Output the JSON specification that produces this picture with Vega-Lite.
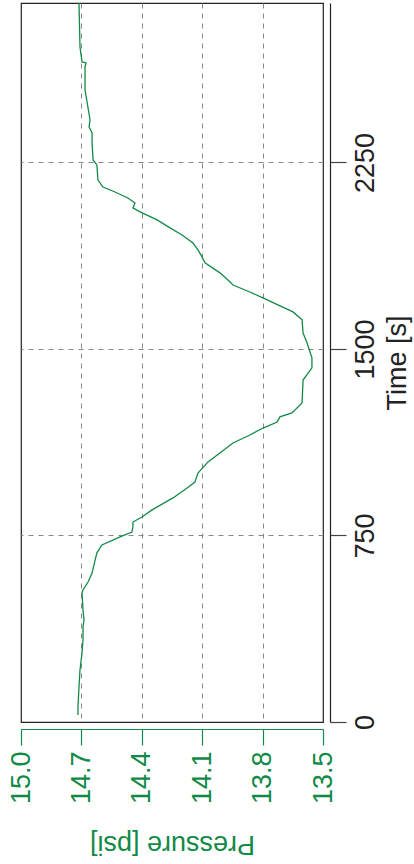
{
  "$schema": "https://vega.github.io/schema/vega-lite/v6.json",
  "autosize": {"type": "none"},
  "padding": {"left": 21, "top": 3, "right": 91, "bottom": 142},
  "width": 302,
  "height": 719,
  "background": "white",
  "config": {
    "font": "Liberation Sans",
    "view": {"stroke": "#222222", "strokeWidth": 1.2}
  },
  "data": {
    "values": [
      {"t": 28, "p": 14.717}, {"t": 60, "p": 14.717}, {"t": 141, "p": 14.712},
      {"t": 209, "p": 14.707}, {"t": 277, "p": 14.697}, {"t": 330, "p": 14.692},
      {"t": 382, "p": 14.692}, {"t": 410, "p": 14.687}, {"t": 450, "p": 14.692},
      {"t": 519, "p": 14.697}, {"t": 531, "p": 14.692}, {"t": 563, "p": 14.667},
      {"t": 599, "p": 14.647}, {"t": 651, "p": 14.632}, {"t": 680, "p": 14.623},
      {"t": 712, "p": 14.598}, {"t": 744, "p": 14.508}, {"t": 764, "p": 14.449},
      {"t": 784, "p": 14.444}, {"t": 804, "p": 14.444}, {"t": 824, "p": 14.399},
      {"t": 853, "p": 14.349}, {"t": 901, "p": 14.245}, {"t": 941, "p": 14.175},
      {"t": 965, "p": 14.136}, {"t": 1001, "p": 14.121}, {"t": 1046, "p": 14.071},
      {"t": 1122, "p": 13.947}, {"t": 1154, "p": 13.863}, {"t": 1182, "p": 13.798},
      {"t": 1206, "p": 13.728}, {"t": 1227, "p": 13.714}, {"t": 1243, "p": 13.654},
      {"t": 1283, "p": 13.604}, {"t": 1375, "p": 13.599}, {"t": 1424, "p": 13.555},
      {"t": 1464, "p": 13.555}, {"t": 1524, "p": 13.579}, {"t": 1564, "p": 13.599},
      {"t": 1617, "p": 13.604}, {"t": 1649, "p": 13.649}, {"t": 1677, "p": 13.724},
      {"t": 1705, "p": 13.798}, {"t": 1729, "p": 13.863}, {"t": 1757, "p": 13.947},
      {"t": 1777, "p": 13.972}, {"t": 1806, "p": 14.012}, {"t": 1846, "p": 14.086},
      {"t": 1870, "p": 14.101}, {"t": 1898, "p": 14.121}, {"t": 1926, "p": 14.146},
      {"t": 1958, "p": 14.200}, {"t": 1987, "p": 14.260}, {"t": 2019, "p": 14.324},
      {"t": 2051, "p": 14.409}, {"t": 2067, "p": 14.444}, {"t": 2087, "p": 14.434},
      {"t": 2107, "p": 14.469}, {"t": 2131, "p": 14.533}, {"t": 2151, "p": 14.593},
      {"t": 2180, "p": 14.618}, {"t": 2240, "p": 14.623}, {"t": 2260, "p": 14.642},
      {"t": 2328, "p": 14.647}, {"t": 2369, "p": 14.647}, {"t": 2393, "p": 14.662},
      {"t": 2421, "p": 14.657}, {"t": 2542, "p": 14.682}, {"t": 2634, "p": 14.682},
      {"t": 2650, "p": 14.677}, {"t": 2654, "p": 14.697}, {"t": 2714, "p": 14.707},
      {"t": 2891, "p": 14.712}
    ]
  },
  "mark": {"type": "line", "color": "#128a47", "strokeWidth": 1.3, "clip": true},
  "encoding": {
    "order": {"field": "t", "type": "quantitative"},
    "x": {
      "field": "p",
      "type": "quantitative",
      "scale": {"domain": [15.0, 13.5], "nice": false, "zero": false},
      "axis": {
        "orient": "bottom",
        "values": [15.0, 14.7, 14.4, 14.1, 13.8, 13.5],
        "format": ".1f",
        "offset": 7,
        "domainColor": "#128a47",
        "domainWidth": 1.2,
        "tickColor": "#128a47",
        "tickWidth": 1.2,
        "tickSize": 16,
        "labelColor": "#128a47",
        "labelFontSize": 27,
        "labelAngle": -90,
        "labelAlign": "right",
        "labelBaseline": "middle",
        "labelPadding": 6,
        "labelFlush": false,
        "labelOverlap": false,
        "grid": true,
        "gridColor": "#888888",
        "gridDash": [5, 5],
        "gridWidth": 1,
        "gridOpacity": {"condition": {"test": "datum.value >= 14.95 || datum.value <= 13.55", "value": 0}, "value": 1},
        "title": "Pressure [psi]",
        "titleColor": "#128a47",
        "titleFontSize": 27,
        "titleFontWeight": "normal",
        "titleAngle": 180,
        "titleBaseline": "middle",
        "titleY": 114
      }
    },
    "y": {
      "field": "t",
      "type": "quantitative",
      "scale": {"domain": [0, 2891], "nice": false},
      "axis": {
        "orient": "right",
        "values": [0, 750, 1500, 2250],
        "format": "d",
        "offset": 7,
        "domainColor": "#222222",
        "domainWidth": 1.2,
        "tickColor": "#444444",
        "tickWidth": 1.2,
        "tickSize": 16,
        "labelColor": "#222222",
        "labelFontSize": 27,
        "labelAngle": -90,
        "labelAlign": "center",
        "labelBaseline": "top",
        "labelPadding": 6,
        "labelFlush": false,
        "labelOverlap": false,
        "grid": true,
        "gridColor": "#888888",
        "gridDash": [5, 5],
        "gridWidth": 1,
        "gridOpacity": {"condition": {"test": "datum.value < 10", "value": 0}, "value": 1},
        "title": "Time [s]",
        "titleColor": "#222222",
        "titleFontSize": 27,
        "titleFontWeight": "normal",
        "titleAngle": -90,
        "titleBaseline": "middle",
        "titleX": 67
      }
    }
  }
}
